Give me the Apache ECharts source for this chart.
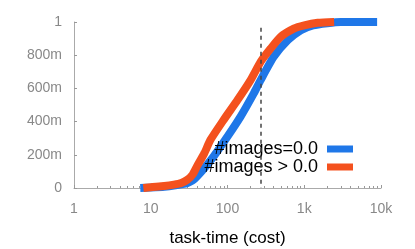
<!DOCTYPE html>
<html><head><meta charset="utf-8">
<script src="https://cdn.jsdelivr.net/npm/echarts@6/dist/echarts.min.js"></script>
<style>html,body{margin:0;padding:0;background:#fff}#c{width:415px;height:249px}</style>
</head><body><div id="c"></div>
<script>
const seriesNames = ['#images=0.0', '#images > 0.0'];
const blueData = [[7.3,0],[10,0.003],[15,0.008],[20,0.015],[30,0.03],[35,0.045],[40,0.07],[50,0.12],[66,0.19],[100,0.31],[148,0.43],[220,0.57],[270,0.65],[400,0.79],[610,0.89],[900,0.95],[1300,0.98],[2000,0.993],[3000,1],[8900,1]];
const orangeData = [[8,0],[10,0.005],[15,0.012],[20,0.02],[25,0.03],[30,0.05],[35,0.08],[40,0.13],[50,0.21],[60,0.29],[89,0.41],[135,0.53],[200,0.65],[270,0.76],[365,0.84],[490,0.91],[730,0.96],[1000,0.98],[1500,0.995],[2450,1]];
const markX = 270;
const yTickLabels = {0:'0',0.2:'200m',0.4:'400m',0.6:'600m',0.8:'800m',1:'1'};
const xTickLabels = {1:'1',10:'10',100:'100',1000:'1k',10000:'10k'};

const font = 'Liberation Sans, Arial, sans-serif';
const chart = echarts.init(document.getElementById('c'));
chart.setOption({
  animation: false,
  grid: {left: 74, right: 34, top: 22, bottom: 61, outerBoundsMode: 'none', containLabel: false},
  legend: {
    orient: 'vertical', right: 57, top: 135, align: 'right',
    itemWidth: 26, itemHeight: 7, itemGap: 0,
    icon: 'rect',
    textStyle: {fontFamily: font, fontSize: 18, lineHeight: 17, color: '#000', padding: [0, 4, 0, 0]},
    data: seriesNames
  },
  xAxis: {
    type: 'log', min: 1, max: 10000, logBase: 10,
    name: 'task-time (cost)', nameLocation: 'middle', nameGap: 42,
    nameTextStyle: {fontFamily: font, fontSize: 17, color: '#000'},
    axisLine: {lineStyle: {color: '#aaa'}},
    axisTick: {inside: true, length: 3, lineStyle: {color: '#999'}},
    minorTick: {show: true, splitNumber: 9, length: 2, lineStyle: {color: '#999'}},
    splitLine: {show: false},
    axisLabel: {fontFamily: font, fontSize: 14, color: '#888', margin: 14,
      formatter: v => xTickLabels[Math.round(v)] ?? ''}
  },
  yAxis: {
    type: 'value', min: 0, max: 1, interval: 0.2,
    axisLine: {show: true, lineStyle: {color: '#aaa'}},
    axisTick: {show: true, inside: true, length: 3, lineStyle: {color: '#999'}},
    splitLine: {show: false},
    axisLabel: {fontFamily: font, fontSize: 14, color: '#888', margin: 12,
      formatter: v => yTickLabels[Math.round(v*10)/10] ?? ''}
  },
  series: [
    {name: seriesNames[0], type: 'line', data: blueData, smooth: 0.2, showSymbol: false,
     color: '#1f77e8', lineStyle: {width: 8, color: '#1f77e8'}},
    {name: seriesNames[1], type: 'line', data: orangeData, smooth: 0.2, showSymbol: false,
     color: '#f4511e', lineStyle: {width: 8, color: '#f4511e'},
     markLine: {silent: true, symbol: 'none', label: {show: false},
       lineStyle: {type: [4, 4], color: '#444', width: 1.5},
       data: [[{coord: [markX, 0.965]}, {coord: [markX, 0]}]]}}
  ]
});
</script></body></html>
